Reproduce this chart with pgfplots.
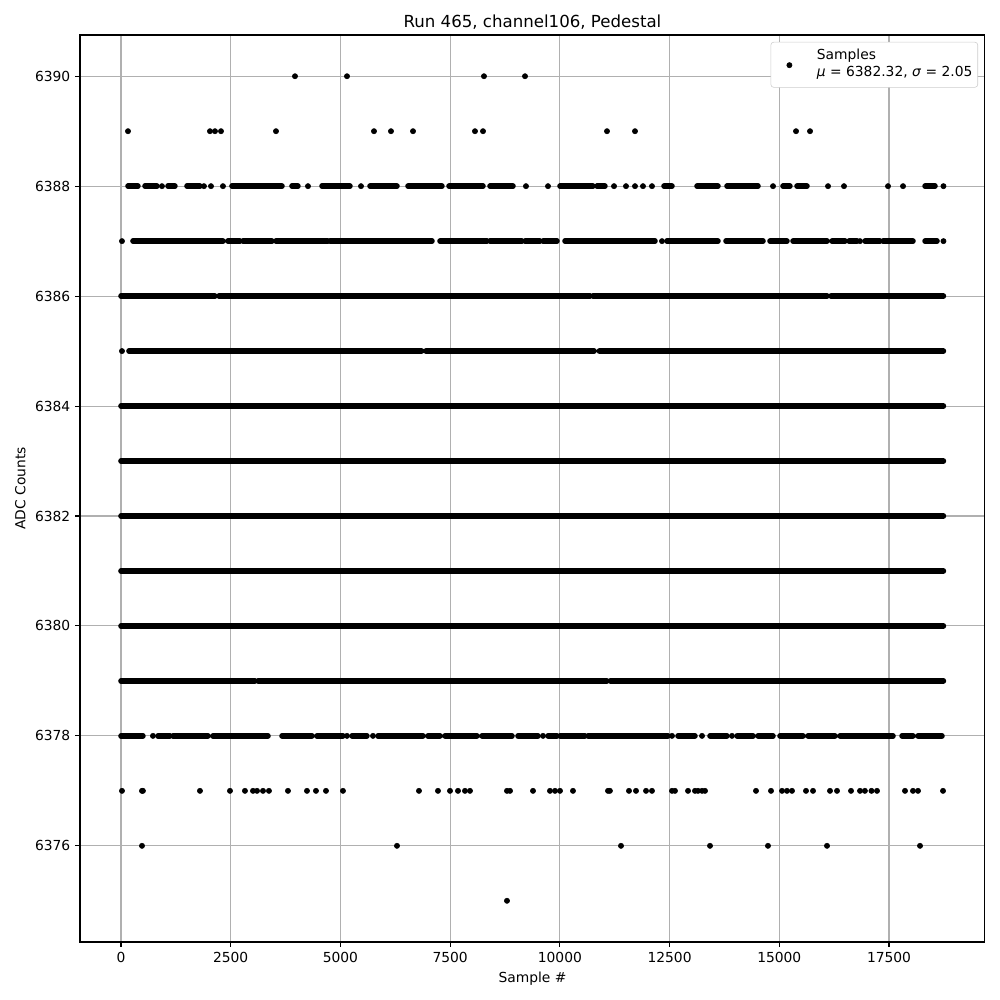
\documentclass[border=0pt]{standalone}
\usepackage{pgfplots}
\pgfplotsset{compat=1.18}
\usepackage{fontspec}
\setmainfont{DejaVu Sans}
\pgfplotsset{
  seg/.style={black, line width=4pt, line cap=round, no marks, forget plot, unbounded coords=jump},
  pts/.style={black, only marks, mark=*, mark size=1.9pt,
    mark options={draw=none, fill=black}, forget plot},
}
\begin{document}
\begin{tikzpicture}
\begin{axis}[
  scale only axis, width=654pt, height=655.5pt,
  xmin=-934, xmax=19685, ymin=6374.25, ymax=6390.75,
  xtick={0,2500,...,17500}, ytick={6376,6378,...,6390},
  scaled ticks=false,
  /pgf/number format/1000 sep={},
  /pgf/number format/assume math mode=true,
  tick label style={font=\fontsize{10}{12}\selectfont},
  label style={font=\fontsize{10}{12}\selectfont},
  title style={font=\fontsize{12}{14}\selectfont, yshift=-5.5pt},
  title={Run 465, channel106, Pedestal},
  xlabel={Sample \#}, ylabel={ADC Counts},
  grid=major, grid style={color=black!31, line width=0.8pt},
  axis line style={black, line width=0.8pt},
  tick style={black, line width=0.8pt}, major tick length=3.5pt,
  tick align=outside, tick pos=left,
  legend style={at={(1,1)}, anchor=north east, xshift=-5pt, yshift=-5pt,
    draw=black!20, rounded corners=2pt, font=\fontsize{10}{12}\selectfont,
    inner xsep=1.8pt, inner ysep=2.3pt, nodes={inner sep=2pt, text depth=}},
  legend cell align=left,
]
\addlegendimage{legend image code/.code={\path[draw=none,fill=none] (0pt,-3pt) rectangle (29.5pt,3pt); \fill[black] (11.6pt,-0.3pt) circle (1.9pt);}}
\addlegendentry{\begin{tabular}{@{}l@{}}Samples\\\textit{μ} = 6382.32, \textit{σ} = 2.05\end{tabular}}

% dense rows
\addplot[seg] coordinates {(0,6386) (2142,6386) (nan,nan) (2233,6386) (10687,6386) (nan,nan) (10755,6386) (16087,6386) (nan,nan) (16178,6386) (18740,6386)};
\addplot[seg] coordinates {(182,6385) (6850,6385) (nan,nan) (6950,6385) (10780,6385) (nan,nan) (10900,6385) (18740,6385)};
\addplot[seg] coordinates {(0,6384) (18740,6384)};
\addplot[seg] coordinates {(0,6383) (18740,6383)};
\addplot[seg] coordinates {(0,6382) (18740,6382)};
\addplot[seg] coordinates {(0,6381) (18740,6381)};
\addplot[seg] coordinates {(0,6380) (18740,6380)};
\addplot[seg] coordinates {(0,6379) (3053,6379) (nan,nan) (3122,6379) (11070,6379) (nan,nan) (11150,6379) (18740,6379)};

% row 6388
\addplot[seg] coordinates {
(160,6388) (387,6388) (nan,nan) (547,6388) (820,6388) (nan,nan)
(1071,6388) (1230,6388) (nan,nan) (1504,6388) (1800,6388) (nan,nan)
(2529,6388) (3669,6388) (nan,nan)
(3896,6388) (4033,6388) (nan,nan) (4580,6388) (5218,6388) (nan,nan)
(5674,6388) (6289,6388) (nan,nan) (6540,6388) (7314,6388) (nan,nan)
(7474,6388) (8249,6388) (nan,nan) (8408,6388) (8932,6388) (nan,nan)
(10003,6388) (10755,6388) (nan,nan) (10846,6388) (11028,6388) (nan,nan)
(12373,6388) (12555,6388) (nan,nan) (13125,6388) (13603,6388) (nan,nan)
(13808,6388) (14515,6388) (nan,nan) (15084,6388) (15243,6388) (nan,nan)
(15403,6388) (15631,6388) (nan,nan) (18320,6388) (18548,6388)};
\addplot[pts] coordinates {(934,6388) (1891,6388) (2051,6388) (2324,6388) (4261,6388) (5469,6388) (9228,6388) (9730,6388) (11234,6388) (11507,6388) (11712,6388) (11894,6388) (12099,6388) (14857,6388) (16110,6388) (16474,6388) (17477,6388) (17819,6388) (18740,6388)};

% row 6387
\addplot[seg] coordinates {
(273,6387) (2324,6387) (nan,nan) (2438,6387) (2712,6387) (nan,nan)
(2780,6387) (3441,6387) (nan,nan) (3532,6387) (4717,6387) (nan,nan) (4762,6387) (7087,6387) (nan,nan)
(7269,6387) (8340,6387) (nan,nan) (8408,6387) (9137,6387) (nan,nan) (9206,6387) (9547,6387) (nan,nan)
(9616,6387) (9935,6387) (nan,nan) (10117,6387) (12168,6387) (nan,nan)
(12441,6387) (13603,6387) (nan,nan) (13785,6387) (14629,6387) (nan,nan) (14788,6387) (15175,6387) (nan,nan)
(15312,6387) (16087,6387) (nan,nan) (16201,6387) (16497,6387) (nan,nan) (16588,6387) (16771,6387) (nan,nan)
(16953,6387) (17294,6387) (nan,nan) (17363,6387) (18046,6387) (nan,nan)
(18320,6387) (18594,6387)};
\addplot[pts] coordinates {(23,6387) (12327,6387) (16839,6387) (18740,6387) (23,6385)};

% row 6378
\addplot[seg] coordinates {
(0,6378) (501,6378) (nan,nan) (843,6378) (1117,6378) (nan,nan)
(1185,6378) (1982,6378) (nan,nan) (2096,6378) (3350,6378) (nan,nan) (3669,6378) (4352,6378) (nan,nan)
(4466,6378) (5058,6378) (nan,nan) (5264,6378) (5605,6378) (nan,nan)
(5856,6378) (6881,6378) (nan,nan) (6995,6378) (7269,6378) (nan,nan)
(7383,6378) (8112,6378) (nan,nan) (8226,6378) (8910,6378) (nan,nan) (9046,6378) (9502,6378) (nan,nan)
(9730,6378) (9935,6378) (nan,nan) (10003,6378) (10573,6378) (nan,nan)
(10641,6378) (12464,6378) (nan,nan) (12692,6378) (13079,6378) (nan,nan)
(13421,6378) (13808,6378) (nan,nan)
(14038,6378) (14401,6378) (nan,nan) (14515,6378) (14857,6378) (nan,nan) (15016,6378) (15540,6378) (nan,nan)
(15654,6378) (16269,6378) (nan,nan) (16383,6378) (17591,6378) (nan,nan) (17796,6378) (18046,6378) (nan,nan)
(18160,6378) (18707,6378)};
\addplot[pts] coordinates {(729,6378) (5150,6378) (5742,6378) (9616,6378) (12555,6378) (13239,6378) (13922,6378)};

% sparse rows
\addplot[pts] coordinates {(3965,6390) (5150,6390) (8271,6390) (9206,6390)};
\addplot[pts] coordinates {(160,6389) (2028,6389) (2142,6389) (2279,6389) (3532,6389) (5765,6389) (6152,6389) (6654,6389) (8066,6389) (8249,6389) (11074,6389) (11712,6389) (15381,6389) (15700,6389)};
\addplot[pts] coordinates {
(23,6377) (479,6377) (500,6377) (1800,6377) (2484,6377) (2825,6377) (3008,6377) (3100,6377) (3236,6377)
(3372,6377) (3805,6377) (4238,6377) (4443,6377) (4671,6377) (5058,6377) (6790,6377) (7223,6377)
(7497,6377) (7679,6377) (7838,6377) (7952,6377) (8795,6377) (8864,6377) (9388,6377) (9775,6377)
(9890,6377) (10003,6377) (10299,6377) (11097,6377) (11140,6377) (11575,6377) (11735,6377) (11963,6377) (12099,6377)
(12555,6377) (12623,6377) (12920,6377) (13079,6377) (13148,6377) (13240,6377) (13307,6377) (14469,6377)
(14811,6377) (15062,6377) (15175,6377) (15289,6377) (15608,6377) (15768,6377) (16155,6377) (16315,6377)
(16634,6377) (16839,6377) (16950,6377) (17100,6377) (17226,6377) (17864,6377) (18046,6377) (18160,6377) (18730,6377)};
\addplot[pts] coordinates {(479,6376) (6289,6376) (11393,6376) (13421,6376) (14742,6376) (16087,6376) (18206,6376)};
\addplot[pts] coordinates {(8795,6375)};
\end{axis}
\pgfresetboundingbox
\useasboundingbox ([shift={(-57.8pt,-41.9pt)}]current axis.south west) rectangle ([shift={(10.8pt,25.3pt)}]current axis.north east);
\end{tikzpicture}
\end{document}
